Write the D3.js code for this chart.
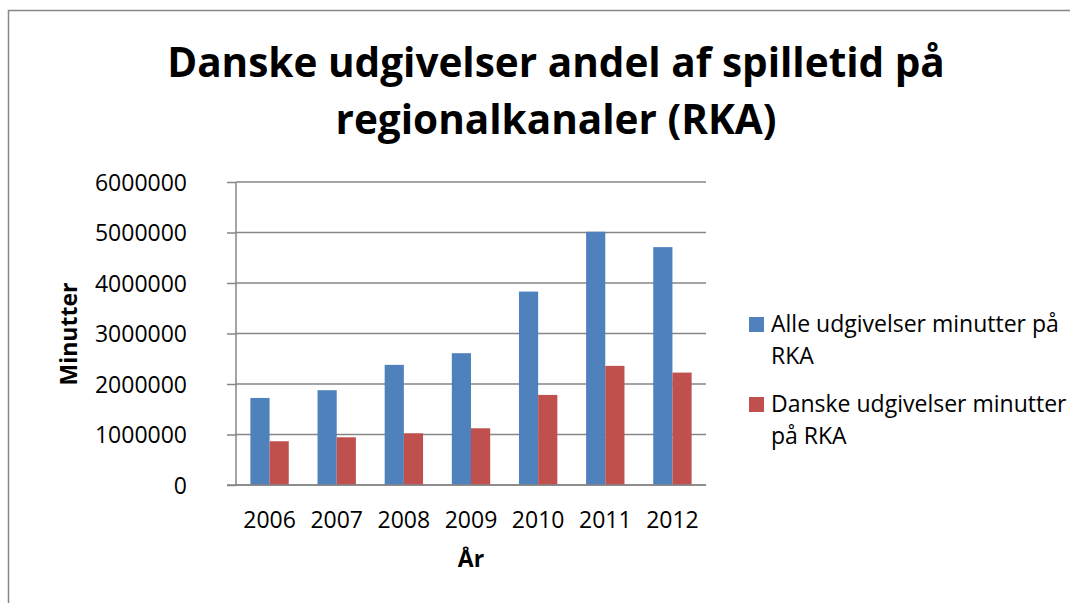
<!DOCTYPE html>
<html>
<head>
<meta charset="utf-8">
<script src="https://cdn.jsdelivr.net/npm/d3@7"></script>
<style>
  body { margin: 0; background: #fff; }
  text { font-family: "Open Sans", "Noto Sans", sans-serif; fill: #000; }
</style>
</head>
<body>
<script>
// data
const years = ["2006", "2007", "2008", "2009", "2010", "2011", "2012"];
const alleMinutter = [1724000, 1877000, 2379000, 2610000, 3830000, 5015000, 4710000];
const danskeMinutter = [866000, 945000, 1024000, 1123000, 1784000, 2359000, 2226000];
const seriesNames = ["Alle udgivelser minutter på RKA", "Danske udgivelser minutter på RKA"];
const legendLines = [["Alle udgivelser minutter på", "RKA"], ["Danske udgivelser minutter", "på RKA"]];
const yTicks = [0, 1000000, 2000000, 3000000, 4000000, 5000000, 6000000];
const colors = ["#4F81BD", "#C0504D"];

const W = 1070, H = 603;
const m = {left: 236, right: 364, top: 182, bottom: 118};

const svg = d3.select("body").append("svg")
  .attr("width", W).attr("height", H);

// chart frame
svg.append("rect")
  .attr("x", 8.5).attr("y", 10.5)
  .attr("width", W).attr("height", H)
  .attr("fill", "none").attr("stroke", "#868686").attr("stroke-width", 1.5);

const x = d3.scaleBand().domain(years)
  .range([m.left, W - m.right]);
const x1 = d3.scaleBand().domain([0, 1])
  .range([0, x.bandwidth()]).paddingOuter(0.75).paddingInner(0);
const y = d3.scaleLinear().domain([0, 6000000])
  .range([H - m.bottom, m.top]);

// y axis ticks + labels
const yAxis = svg.append("g")
  .attr("transform", `translate(${m.left},0)`)
  .call(d3.axisLeft(y).tickValues(yTicks).tickSize(9).tickPadding(40).tickFormat(d3.format("d")));
yAxis.select(".domain").remove();
yAxis.attr("font-family", null);
yAxis.selectAll("line").attr("stroke", "#868686").attr("stroke-width", 1.5);
yAxis.selectAll("text").style("font-size", "23px").attr("dy", "0.36em");

// gridlines
svg.append("g").selectAll("line")
  .data(yTicks).join("line")
  .attr("x1", m.left).attr("x2", W - m.right)
  .attr("y1", d => y(d)).attr("y2", d => y(d))
  .attr("stroke", "#868686").attr("stroke-width", 1.5);

svg.append("line")
  .attr("x1", m.left).attr("x2", m.left)
  .attr("y1", y(6000000)).attr("y2", y(0) + 1)
  .attr("stroke", "#868686").attr("stroke-width", 1.5);

// bars
const seriesData = [alleMinutter, danskeMinutter];
seriesData.forEach((vals, s) => {
  svg.append("g").selectAll("rect")
    .data(vals).join("rect")
    .attr("x", (d, i) => x(years[i]) + x1(s))
    .attr("y", d => y(d))
    .attr("width", x1.bandwidth())
    .attr("height", d => y(0) - y(d))
    .attr("fill", colors[s]);
});

// x axis
const xAxis = svg.append("g")
  .attr("transform", `translate(0,${y(0)})`)
  .call(d3.axisBottom(x).tickSize(0).tickPadding(27));
xAxis.select(".domain").remove();
xAxis.attr("font-family", null);
xAxis.selectAll("text").style("font-size", "23px");
svg.append("line")
  .attr("x1", m.left - 9).attr("x2", W - m.right)
  .attr("y1", y(0)).attr("y2", y(0))
  .attr("stroke", "#868686").attr("stroke-width", 1.5);

// axis titles
svg.append("text")
  .attr("x", (m.left + W - m.right) / 2).attr("y", 567)
  .attr("text-anchor", "middle")
  .style("font-size", "23px").style("font-weight", "bold")
  .text("År");
svg.append("text")
  .attr("transform", "translate(77,334) rotate(-90)")
  .attr("text-anchor", "middle")
  .style("font-size", "23px").style("font-weight", "bold")
  .text("Minutter");

// title
const title = svg.append("text")
  .attr("text-anchor", "middle")
  .style("font-size", "40.5px").style("font-weight", "bold");
title.append("tspan").attr("x", 556).attr("y", 77).text("Danske udgivelser andel af spilletid på");
title.append("tspan").attr("x", 556).attr("y", 134).text("regionalkanaler (RKA)");

// legend
const lg = svg.append("g").selectAll("g")
  .data(seriesNames).join("g")
  .attr("transform", (d, i) => `translate(749,${317 + i * 80})`);
lg.append("rect")
  .attr("width", 15).attr("height", 15)
  .attr("fill", (d, i) => colors[i]);
lg.each(function(d, i) {
  const t = d3.select(this).append("text")
    .style("font-size", "23px");
  legendLines[i].forEach((line, j) => {
    t.append("tspan").attr("x", 22).attr("y", 15 + j * 32).text(line);
  });
});
</script>
</body>
</html>
